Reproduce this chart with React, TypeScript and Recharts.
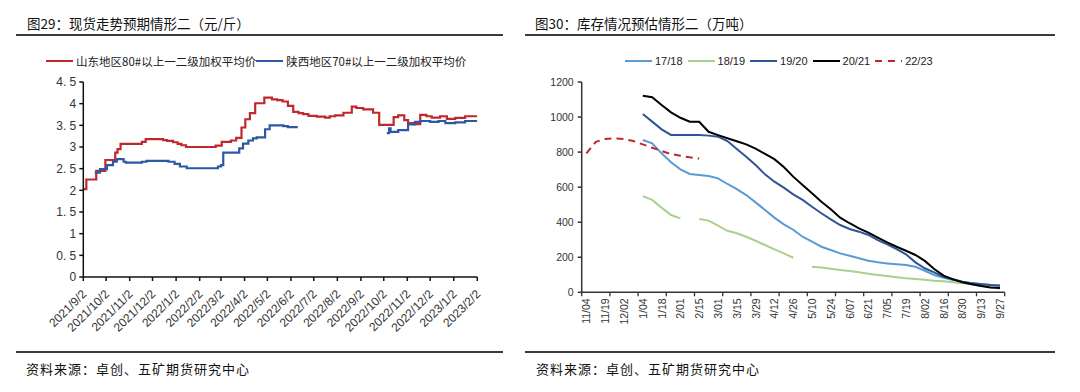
import React from 'react';
import { LineChart, Line, XAxis, YAxis } from 'recharts';

const N = null;

// ---------- 图29 data ----------
const shandongDates = [
  '2021-09-02', '2021-09-06', '2021-09-19', '2021-10-01', '2021-10-14', '2021-10-17', '2021-10-21',
  '2021-11-18', '2021-11-23', '2021-12-16', '2021-12-21', '2021-12-29', '2022-01-04', '2022-01-09',
  '2022-01-15', '2022-02-23', '2022-03-03', '2022-03-15', '2022-03-22', '2022-03-29', '2022-04-03',
  '2022-04-09', '2022-04-16', '2022-04-28', '2022-05-08', '2022-05-15', '2022-05-22', '2022-05-29',
  '2022-06-05', '2022-06-12', '2022-06-18', '2022-06-25', '2022-07-06', '2022-07-17', '2022-07-23',
  '2022-07-30', '2022-08-10', '2022-08-21', '2022-08-27', '2022-09-05', '2022-09-18', '2022-09-26',
  '2022-10-15', '2022-10-21', '2022-10-29', '2022-11-03', '2022-11-11', '2022-11-19', '2022-11-27',
  '2022-12-04', '2022-12-15', '2022-12-24', '2023-01-04', '2023-01-17', '2023-02-02',
];
const shandongPrices = [
  2.03, 2.25, 2.45, 2.70, 2.87, 2.95, 3.07,
  3.12, 3.18, 3.16, 3.14, 3.11, 3.07, 3.04,
  3.00, 3.03, 3.12, 3.15, 3.21, 3.45, 3.64,
  3.78, 4.01, 4.14, 4.10, 4.08, 4.05, 3.95,
  3.81, 3.78, 3.76, 3.72, 3.70, 3.68, 3.71,
  3.73, 3.79, 3.93, 3.90, 3.87, 3.79, 3.51,
  3.69, 3.73, 3.62, 3.55, 3.53, 3.74, 3.71,
  3.68, 3.71, 3.65, 3.67, 3.71, 3.71,
];
const shaanxiDates = [
  '2021-09-17', '2021-09-24', '2021-10-03', '2021-10-11', '2021-10-16', '2021-10-25', '2021-10-28',
  '2021-11-18', '2021-11-24', '2021-12-23', '2021-12-31', '2022-01-07', '2022-01-16', '2022-02-26',
  '2022-03-02', '2022-03-05', '2022-03-26', '2022-03-31', '2022-04-07', '2022-04-13', '2022-04-18',
  '2022-04-29', '2022-05-05', '2022-05-23', '2022-05-29', '2022-06-11', '2022-06-29', '2022-10-06',
  '2022-10-09', '2022-10-11', '2022-10-21', '2022-11-03', '2022-11-12', '2022-11-19', '2022-12-02',
  '2022-12-13', '2022-12-22', '2023-01-04', '2023-01-17', '2023-02-02',
];
const shaanxiPrices = [
  2.41, 2.49, 2.58, 2.66, 2.72, 2.66, 2.64,
  2.66, 2.68, 2.66, 2.61, 2.55, 2.51, 2.55,
  2.58, 2.87, 2.97, 3.08, 3.15, 3.20, 3.22,
  3.41, 3.50, 3.48, 3.46, 3.46, N, 3.32,
  3.43, 3.35, 3.39, 3.52, 3.58, 3.60, 3.58,
  3.60, 3.55, 3.57, 3.60, 3.60,
];
const priceAxisDates = [
  '2021-09-02', '2021-10-02', '2021-11-02', '2021-12-02', '2022-01-02', '2022-02-02',
  '2022-03-02', '2022-04-02', '2022-05-02', '2022-06-02', '2022-07-02', '2022-08-02',
  '2022-09-02', '2022-10-02', '2022-11-02', '2022-12-02', '2023-01-02', '2023-02-02',
];
const priceTicks = [0, 0.5, 1, 1.5, 2, 2.5, 3, 3.5, 4, 4.5];

// ---------- 图30 data ----------
const weekLabels = [
  '11/04', '11/11', '11/19', '11/26', '12/02', '12/09', '1/04', '1/11', '1/18', '1/25',
  '2/01', '2/08', '2/15', '2/22', '3/01', '3/08', '3/15', '3/22', '3/29', '4/05',
  '4/12', '4/19', '4/26', '5/03', '5/10', '5/17', '5/24', '5/31', '6/07', '6/14',
  '6/21', '6/28', '7/05', '7/12', '7/19', '7/26', '8/02', '8/09', '8/16', '8/23',
  '8/30', '9/06', '9/13', '9/20', '9/27',
];
const stock1718 = [
  N, N, N, N, N, N, 869, 850, 793, 742,
  702, 675, 669, 664, 650, 618, 589, 555, 513, 470,
  426, 388, 357, 317, 289, 260, 241, 222, 209, 194,
  180, 171, 165, 160, 156, 146, 123, 99, 83, 70,
  60, 53, 47, 42, 40,
];
const stock1819 = [
  N, N, N, N, N, N, 549, 527, 483, 441,
  422, N, 418, 409, 380, 351, 337, 317, 294, 270,
  245, 222, 197, N, 146, 141, 135, 127, 121, 114,
  106, 99, 93, 86, 80, 76, 72, 66, 63, 57,
  51, 46, 38, 29, 21,
];
const stock1920 = [
  N, N, N, N, N, N, 1017, 974, 930, 898,
  898, 898, 898, 894, 888, 863, 818, 774, 726, 673,
  631, 597, 559, 527, 488, 451, 416, 384, 361, 346,
  327, 298, 274, 247, 217, 171, 137, 114, 89, 74,
  60, 51, 46, 42, 38,
];
const stock2021 = [
  N, N, N, N, N, N, 1122, 1113, 1069, 1027,
  996, 973, 973, 916, 897, 879, 862, 844, 820, 790,
  760, 715, 660, 612, 565, 517, 474, 426, 394, 365,
  340, 312, 285, 260, 237, 213, 179, 133, 95, 74,
  57, 46, 36, 28, 25,
];
const stock2223 = [
  793, 859, 875, 879, 875, 863, 844, 825, 806, 789,
  779, 770, 763, N, N, N, N, N, N, N,
  N, N, N, N, N, N, N, N, N, N,
  N, N, N, N, N, N, N, N, N, N,
  N, N, N, N, N,
];
const stockTicks = [0, 200, 400, 600, 800, 1000, 1200];

// ---------- helpers ----------
const BASE = Date.UTC(2021, 8, 2);
const toDay = (s: string) => {
  const [y, m, d] = s.split('-').map(Number);
  return Math.round((Date.UTC(y, m - 1, d) - BASE) / 86400000);
};
const dayLabel = (day: number) => {
  const dt = new Date(BASE + day * 86400000);
  return `${dt.getUTCFullYear()}/${dt.getUTCMonth() + 1}/${dt.getUTCDate()}`;
};

const shandongData = shandongDates.map((d, i) => ({ day: toDay(d), v: shandongPrices[i] }));
const shaanxiData = shaanxiDates.map((d, i) => ({ day: toDay(d), v: shaanxiPrices[i] }));
const priceTickDays = priceAxisDates.map(toDay);

const stockData = weekLabels.map((w, i) => ({
  week: w,
  s1718: stock1718[i],
  s1819: stock1819[i],
  s1920: stock1920[i],
  s2021: stock2021[i],
  s2223: stock2223[i],
}));

const CJK = '"Noto Sans CJK SC", "Noto Sans", sans-serif';
const LAT = '"Liberation Sans", Arial, sans-serif';
const RED = '#C0282D';
const BLUE = '#2E58A6';
const C1718 = '#5B9BD5';
const C1819 = '#A9D18E';
const C1920 = '#2F5597';
const C2021 = '#000000';

const RIGHT_PLOT_W = 423;
const HALF = RIGHT_PLOT_W / weekLabels.length / 2;

const MonthTick = (props: any) => {
  const { x, y, payload } = props;
  const ax = x + 1;
  const ay = y + 1;
  return (
    <text
      x={ax}
      y={ay}
      transform={`rotate(-45 ${ax} ${ay})`}
      textAnchor="end"
      dominantBaseline="central"
      fontSize={12}
      fill="#333"
      fontFamily={LAT}
    >
      {dayLabel(payload.value)}
    </text>
  );
};

const WeekTick = (props: any) => {
  const { x, y, payload, index } = props;
  const last = weekLabels.length - 1;
  const ty = y + 6;
  return (
    <g>
      {index % 3 === 0 && (
        <line x1={x - HALF} x2={x - HALF} y1={y} y2={y + 4} stroke="#333" strokeWidth={1.3} />
      )}
      {index === last && (
        <line x1={x + HALF} x2={x + HALF} y1={y} y2={y + 4} stroke="#333" strokeWidth={1.3} />
      )}
      {index % 2 === 0 && (
        <text
          x={x}
          y={ty}
          transform={`rotate(-90 ${x} ${ty})`}
          textAnchor="end"
          dominantBaseline="central"
          fontSize={10.5}
          fill="#333"
          fontFamily={LAT}
        >
          {payload.value}
        </text>
      )}
    </g>
  );
};

const LegendLine = ({ color, dashed }: { color: string; dashed?: boolean }) => (
  <svg width={27} height={6} style={{ display: 'block', marginRight: 3 }}>
    <line
      x1={0}
      x2={27}
      y1={3}
      y2={3}
      stroke={color}
      strokeWidth={2}
      strokeDasharray={dashed ? '7 6' : undefined}
    />
  </svg>
);

const rule = (left: number, top: number, width: number) => (
  <div style={{ position: 'absolute', left, top, width, height: 2, background: '#3a3a3a' }} />
);

const textStyle = (left: number, top: number, size: number): React.CSSProperties => ({
  position: 'absolute',
  left,
  top,
  fontSize: size,
  lineHeight: '18px',
  fontFamily: CJK,
  color: '#111',
  whiteSpace: 'nowrap',
});

export default function App() {
  return (
    <div
      style={{
        position: 'absolute',
        left: 0,
        top: 0,
        width: 1080,
        height: 392,
        background: '#fff',
        overflow: 'hidden',
      }}
    >
      {/* titles */}
      <div style={textStyle(27, 14, 13.5)}>图29：现货走势预期情形二（元/斤）</div>
      <div style={textStyle(535, 14, 13.5)}>图30：库存情况预估情形二（万吨）</div>
      {rule(16, 34, 487)}
      {rule(525, 34, 530)}
      {rule(16, 351, 487)}
      {rule(525, 351, 530)}
      <div style={{ ...textStyle(26, 360, 13), letterSpacing: 1 }}>资料来源：卓创、五矿期货研究中心</div>
      <div style={{ ...textStyle(536, 360, 13), letterSpacing: 1 }}>资料来源：卓创、五矿期货研究中心</div>

      {/* left legend */}
      <div
        style={{
          position: 'absolute',
          left: 46,
          top: 53,
          height: 16,
          display: 'flex',
          alignItems: 'center',
          fontFamily: CJK,
          fontSize: 11.5,
          color: '#222',
          whiteSpace: 'nowrap',
        }}
      >
        <LegendLine color={RED} />
        <span>山东地区80#以上一二级加权平均价</span>
        <LegendLine color={BLUE} />
        <span>陕西地区70#以上一二级加权平均价</span>
      </div>

      {/* right legend */}
      <div
        style={{
          position: 'absolute',
          left: 625,
          top: 53,
          height: 16,
          display: 'flex',
          alignItems: 'center',
          fontFamily: LAT,
          fontSize: 11,
          color: '#222',
          whiteSpace: 'nowrap',
        }}
      >
        <LegendLine color={C1718} />
        <span style={{ marginRight: 5 }}>17/18</span>
        <LegendLine color={C1819} />
        <span style={{ marginRight: 5 }}>18/19</span>
        <LegendLine color={C1920} />
        <span style={{ marginRight: 5 }}>19/20</span>
        <LegendLine color={C2021} />
        <span style={{ marginRight: 5 }}>20/21</span>
        <LegendLine color={RED} dashed />
        <span>22/23</span>
      </div>

      {/* left chart */}
      <div style={{ position: 'absolute', left: 0, top: 70 }}>
        <LineChart width={500} height={290} margin={{ top: 12, right: 22.7, bottom: 23, left: 43.3 }}>
          <XAxis
            dataKey="day"
            type="number"
            domain={[0, 518]}
            ticks={priceTickDays}
            interval={0}
            height={60}
            stroke="#111"
            strokeWidth={1.5}
            tickSize={4}
            tickMargin={10}
            tick={(p: any) => <MonthTick {...p} />}
            allowDataOverflow
          />
          <YAxis
            type="number"
            domain={[0, 4.5]}
            ticks={priceTicks}
            interval={0}
            width={40}
            stroke="#111"
            strokeWidth={1.5}
            tickSize={4}
            tickMargin={3}
            tick={{ fontSize: 12, fill: '#333', fontFamily: LAT }}
            tickFormatter={(v: number) => String(v).replace('.', '. ')}
          />
          <Line
            data={shandongData}
            dataKey="v"
            type="stepAfter"
            stroke={RED}
            strokeWidth={2.2}
            dot={false}
            activeDot={false}
            isAnimationActive={false}
          />
          <Line
            data={shaanxiData}
            dataKey="v"
            type="stepAfter"
            stroke={BLUE}
            strokeWidth={2.2}
            dot={false}
            activeDot={false}
            isAnimationActive={false}
          />
        </LineChart>
      </div>

      {/* right chart */}
      <div style={{ position: 'absolute', left: 520, top: 70 }}>
        <LineChart
          width={540}
          height={290}
          data={stockData}
          margin={{ top: 12, right: 55.3, bottom: 17.7, left: 21.7 }}
        >
          <XAxis
            dataKey="week"
            interval={0}
            height={50}
            padding={{ left: HALF, right: HALF }}
            stroke="#333"
            strokeWidth={1.5}
            tickLine={false}
            tickSize={0}
            tickMargin={0}
            tick={(p: any) => <WeekTick {...p} />}
          />
          <YAxis
            type="number"
            domain={[0, 1200]}
            ticks={stockTicks}
            interval={0}
            width={40}
            stroke="#333"
            strokeWidth={1.5}
            tickSize={4}
            tickMargin={4}
            tick={{ fontSize: 10.5, fill: '#333', fontFamily: LAT }}
          />
          <Line dataKey="s1718" stroke={C1718} strokeWidth={2} dot={false} activeDot={false} isAnimationActive={false} />
          <Line dataKey="s1819" stroke={C1819} strokeWidth={2} dot={false} activeDot={false} isAnimationActive={false} />
          <Line dataKey="s1920" stroke={C1920} strokeWidth={2} dot={false} activeDot={false} isAnimationActive={false} />
          <Line dataKey="s2021" stroke={C2021} strokeWidth={2} dot={false} activeDot={false} isAnimationActive={false} />
          <Line
            dataKey="s2223"
            stroke={RED}
            strokeWidth={2}
            strokeDasharray="7 5"
            dot={false}
            activeDot={false}
            isAnimationActive={false}
          />
        </LineChart>
      </div>
    </div>
  );
}
